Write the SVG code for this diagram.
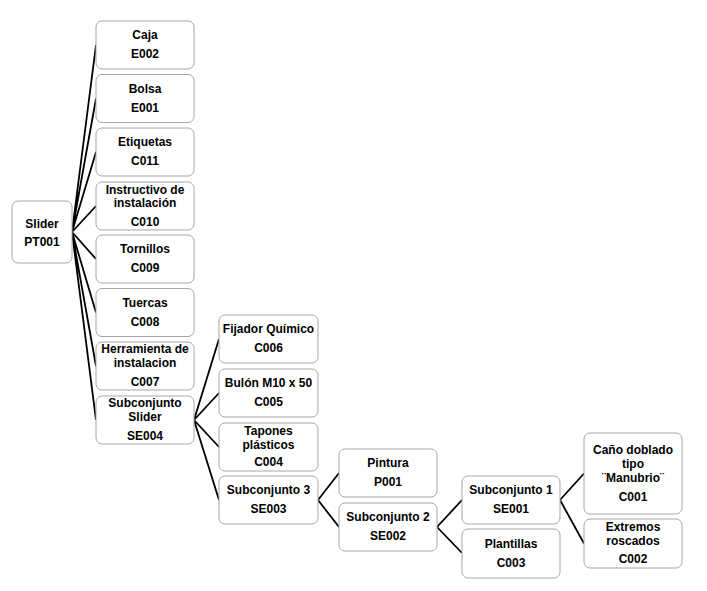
<svg xmlns="http://www.w3.org/2000/svg" width="707" height="591" viewBox="0 0 707 591">
<style>
.b{fill:#fff;stroke:#a6a6a6;stroke-width:1}
.t{font-family:"Liberation Sans",Arial,sans-serif;font-weight:bold;font-size:12px;fill:#000;text-anchor:middle}
.c{stroke:#000;stroke-width:1.8;fill:none}
</style>
<rect width="707" height="591" fill="#fff"/>
<g id="connectors">
<path class="c" d="M72,232L96,45M72,232L96,98.5M72,232L96,152M72,232L96,206M72,232L96,259M72,232L96,312.5M72,232L96,366M72,232L96,420"/>
<path class="c" d="M194,420L219,339M194,420L219,393M194,420L219,447M194,420L219,500"/>
<path class="c" d="M318,500L339,473M318,500L339,527"/>
<path class="c" d="M437,527L462,500M437,527L462,553"/>
<path class="c" d="M560,500L584,473.5M560,500L584,543.5"/>
</g>
<g id="PT001"><rect class="b" x="12" y="201" width="60" height="62" rx="6"/><text class="t" x="42" y="228">Slider</text><text class="t" x="42" y="246">PT001</text></g>
<g id="E002"><rect class="b" x="96" y="21" width="98" height="48" rx="6"/><text class="t" x="145" y="39">Caja</text><text class="t" x="145" y="58">E002</text></g>
<g id="E001"><rect class="b" x="96" y="74.5" width="98" height="48" rx="6"/><text class="t" x="145" y="92.5">Bolsa</text><text class="t" x="145" y="111.5">E001</text></g>
<g id="C011"><rect class="b" x="96" y="128" width="98" height="48" rx="6"/><text class="t" x="145" y="146">Etiquetas</text><text class="t" x="145" y="165">C011</text></g>
<g id="C010"><rect class="b" x="96" y="182" width="98" height="48" rx="6"/><text class="t" x="145" y="194">Instructivo de</text><text class="t" x="145" y="207">instalación</text><text class="t" x="145" y="226">C010</text></g>
<g id="C009"><rect class="b" x="96" y="235" width="98" height="48" rx="6"/><text class="t" x="145" y="253">Tornillos</text><text class="t" x="145" y="272">C009</text></g>
<g id="C008"><rect class="b" x="96" y="288.5" width="98" height="48" rx="6"/><text class="t" x="145" y="306.5">Tuercas</text><text class="t" x="145" y="325.5">C008</text></g>
<g id="C007"><rect class="b" x="96" y="342" width="98" height="48" rx="6"/><text class="t" x="145" y="353">Herramienta de</text><text class="t" x="145" y="367">instalacion</text><text class="t" x="145" y="386">C007</text></g>
<g id="SE004"><rect class="b" x="96" y="396" width="98" height="48" rx="6"/><text class="t" x="145" y="407">Subconjunto</text><text class="t" x="145" y="421">Slider</text><text class="t" x="145" y="440">SE004</text></g>
<g id="C006"><rect class="b" x="219" y="315" width="99" height="48" rx="6"/><text class="t" x="268.5" y="333">Fijador Químico</text><text class="t" x="268.5" y="352">C006</text></g>
<g id="C005"><rect class="b" x="219" y="369" width="99" height="48" rx="6"/><text class="t" x="268.5" y="387">Bulón M10 x 50</text><text class="t" x="268.5" y="406">C005</text></g>
<g id="C004"><rect class="b" x="219" y="423" width="99" height="48" rx="6"/><text class="t" x="268.5" y="435">Tapones</text><text class="t" x="268.5" y="449">plásticos</text><text class="t" x="268.5" y="466">C004</text></g>
<g id="SE003"><rect class="b" x="219" y="476" width="99" height="48" rx="6"/><text class="t" x="268.5" y="494">Subconjunto 3</text><text class="t" x="268.5" y="513">SE003</text></g>
<g id="P001"><rect class="b" x="339" y="449" width="98" height="48" rx="6"/><text class="t" x="388" y="467">Pintura</text><text class="t" x="388" y="486">P001</text></g>
<g id="SE002"><rect class="b" x="339" y="503" width="98" height="48" rx="6"/><text class="t" x="388" y="521">Subconjunto 2</text><text class="t" x="388" y="540">SE002</text></g>
<g id="SE001"><rect class="b" x="462" y="476" width="98" height="48" rx="6"/><text class="t" x="511" y="494">Subconjunto 1</text><text class="t" x="511" y="513">SE001</text></g>
<g id="C003"><rect class="b" x="462" y="529" width="98" height="49" rx="6"/><text class="t" x="511" y="548">Plantillas</text><text class="t" x="511" y="567">C003</text></g>
<g id="C001"><rect class="b" x="584" y="433" width="98" height="81" rx="6"/><text class="t" x="633" y="454">Caño doblado</text><text class="t" x="633" y="468">tipo</text><text class="t" x="633" y="482">¨Manubrio¨</text><text class="t" x="633" y="501">C001</text></g>
<g id="C002"><rect class="b" x="584" y="519" width="98" height="49" rx="6"/><text class="t" x="633" y="531">Extremos</text><text class="t" x="633" y="545">roscados</text><text class="t" x="633" y="563">C002</text></g>
</svg>
